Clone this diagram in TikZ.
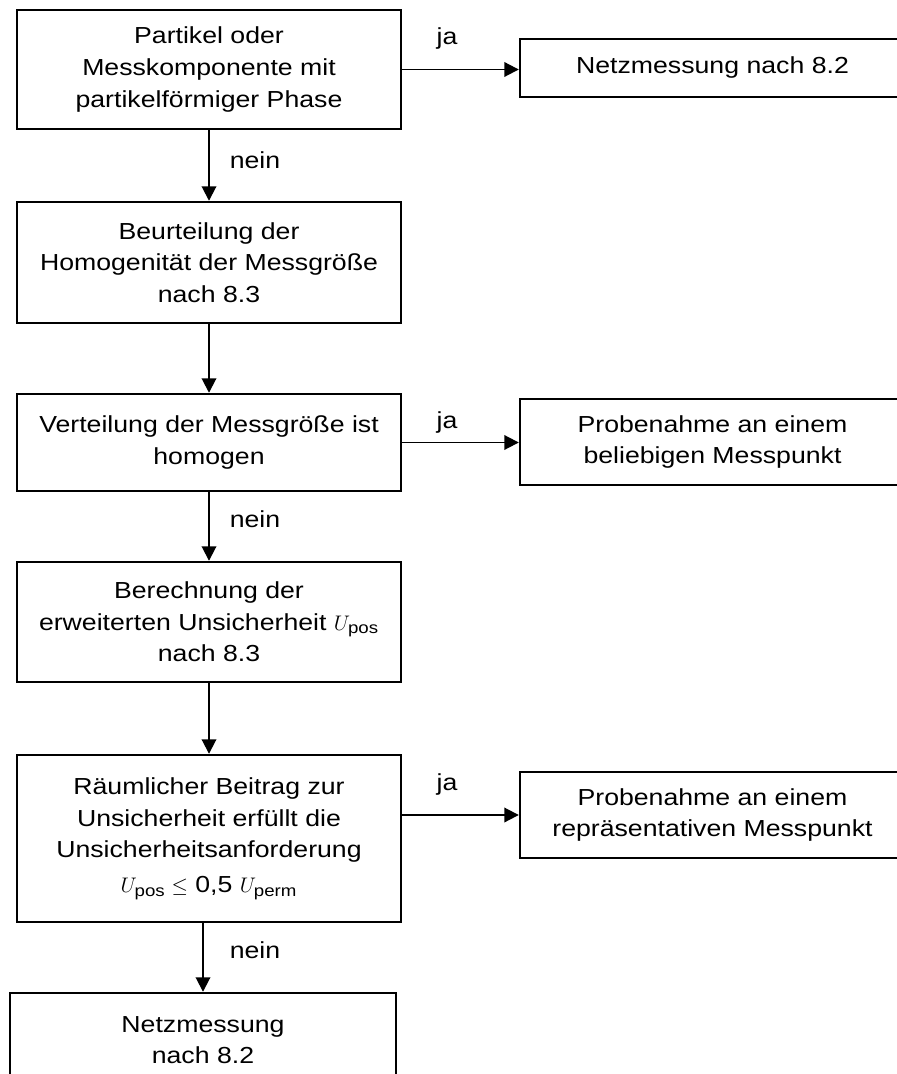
\documentclass[tikz,border=0pt]{standalone}
\usepackage{amsmath}
\usepackage{fontspec}
\setmainfont[FakeStretch=1.15]{Liberation Sans}
\usetikzlibrary{arrows.meta}

\tikzset{
  box/.style={draw, line width=1.4pt, align=center, inner sep=2pt,
    font=\fontsize{13.2}{18}\selectfont},
  leftbox/.style={box, minimum width=7.68cm},
  rightbox/.style={box, minimum width=7.7cm},
  arr/.style={line width=1.1pt, -{Triangle[length=0.29cm,width=0.29cm]}},
  lab/.style={font=\fontsize{13.2}{18}\selectfont, inner sep=0pt}
}

\begin{document}
\begin{tikzpicture}[x=0.02cm,y=-0.02cm]
\useasboundingbox (0,0) rectangle (896,1074);

% left column
\node [leftbox, minimum height=2.38cm] (part) at (209,69.5)
  {Partikel oder\\ Messkomponente mit\\ partikelförmiger Phase};
\node [leftbox, minimum height=2.42cm] (beurt) at (209,262.5)
  {Beurteilung der\\ Homogenität der Messgröße\\ nach 8.3};
\node [leftbox, minimum height=1.94cm] (homog) at (209,442.5)
  {Verteilung der Messgröße ist\\ homogen};
\node [leftbox, minimum height=2.4cm] (berech) at (209,622)
  {Berechnung der\\ erweiterten Unsicherheit $U_{\text{pos}}$\\ nach 8.3};
\node [leftbox, minimum height=3.34cm] (beitrag) at (209,838.5)
  {Räumlicher Beitrag zur\\ Unsicherheit erfüllt die\\ Unsicherheitsanforderung\\[2pt]
   $U_{\text{pos}} \leq$ 0,5 $U_{\text{perm}}$};
\node [box, minimum width=7.72cm, minimum height=1.88cm] (netz) at (203,1040)
  {Netzmessung\\ nach 8.2};

% right column
\node [rightbox, minimum height=1.16cm] (netzA) at (712.5,68) {Netzmessung nach 8.2};
\node [rightbox, minimum height=1.72cm] (probeB) at (712.5,442)
  {Probenahme an einem\\ beliebigen Messpunkt};
\node [rightbox, minimum height=1.72cm] (probeR) at (712.5,815)
  {Probenahme an einem\\ repräsentativen Messpunkt};

% connectors
\draw [arr] (part.east) -- (part.east -| netzA.west);
\draw [arr] (homog.east) -- (homog.east -| probeB.west);
\draw [arr] (beitrag.east |- probeR.west) -- (probeR.west);
\draw [arr] (part.south) -- (beurt.north);
\draw [arr] (beurt.south) -- (homog.north);
\draw [arr] (homog.south) -- (berech.north);
\draw [arr] (berech.south) -- (beitrag.north);
\draw [arr] (beitrag.south -| netz.north) -- (netz.north);

% labels
\node [lab] (ja1) at (447,39) {ja};
\node [lab] (ja2) at (447,423) {ja};
\node [lab] (ja3) at (447,784) {ja};
\node [lab] (nein1) at (255,160) {nein};
\node [lab] (nein2) at (255,519.5) {nein};
\node [lab] (nein3) at (255,950) {nein};
\end{tikzpicture}
\end{document}
